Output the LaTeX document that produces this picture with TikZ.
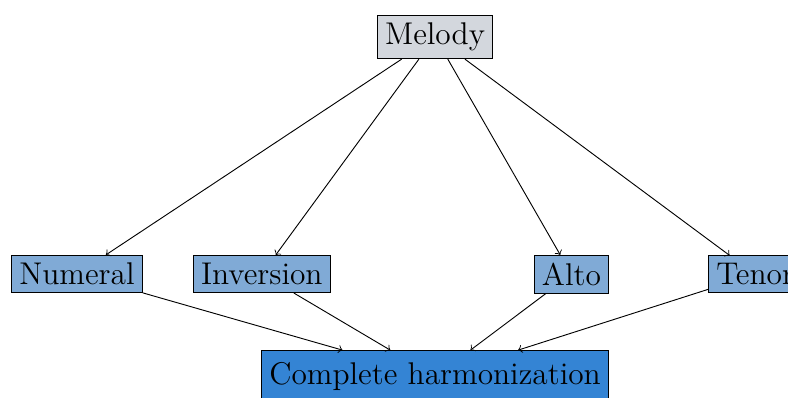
\documentclass[tikz,border=0pt]{standalone}
\usepackage{xcolor}
\usepackage{tikz}
\usetikzlibrary{arrows,positioning}
\definecolor{melodygray}{RGB}{211,215,221}
\definecolor{partblue}{RGB}{128,170,214}
\definecolor{fullblue}{RGB}{52,132,212}
\tikzset{
    pt/.style={ % part boxes
		rectangle,
		fill = partblue,
		draw=black, 
		text centered,
		font=\fontsize{13.7}{16.4}\selectfont
		},
    ptm/.style={ %melody box
    	pt,
    	fill = melodygray
    	},
    ptf/.style={ %full harmonization box
     	pt,
     	fill = fullblue,
     	minimum height=0.8cm
     	}, 
    arrout/.style={
           ->,
           }
}
\begin{document}
\begin{tikzpicture}
		\useasboundingbox (-6.67,0.567) rectangle (5.41,-5.53);
		
		%%%%% node melody 
		\node[ptm] (melody) {Melody};
		
		%%%%% node numeral 	
		\node[pt,below=3.0cm of melody,xshift=-5.49cm] (numeral) {Numeral};
		
		%%%%% node inversion 	
		\node[pt,right=0.77cm of numeral] (inversion) {Inversion};
		
		%%%%% node alto 	
		\node[pt,below=3.0cm of melody,xshift=2.09cm] (alto) {Alto};
		
		%%%%% node tenor 	
		\node[pt,right=1.52cm of alto] (tenor) {Tenor};
		
		%%%%% node full 	
		\node[ptf,below=4.46cm of melody] (full) {Complete harmonization};
		
		%%%%% edges from melody
		\draw[arrout] (melody) -- (numeral);
		\draw[arrout] (melody) -- (inversion);
		\draw[arrout] (melody) -- (alto);
		\draw[arrout] (melody) -- (tenor);
		
		%%%%% edges to full
		\draw[arrout] (numeral) -- (full);
		\draw[arrout] (inversion) -- (full);
		\draw[arrout] (alto) -- (full);
		\draw[arrout] (tenor) -- (full);
\end{tikzpicture}
\end{document}
